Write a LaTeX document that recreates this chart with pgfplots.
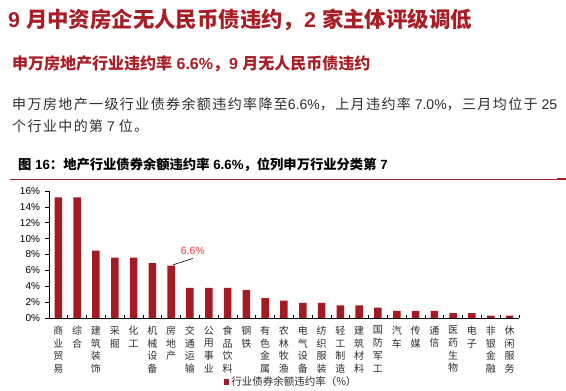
\documentclass[border=0pt]{standalone}
\usepackage{pgfplots}
\pgfplotsset{compat=1.18}
\usepackage{fontspec}
\setmainfont{Liberation Sans}
\newfontfamily\cjk{Noto Sans CJK SC}
\newfontfamily\cjksp[LetterSpace=10]{Noto Sans CJK SC}
\definecolor{titlered}{RGB}{168,30,38}
\definecolor{barred}{RGB}{165,27,35}
\definecolor{annred}{RGB}{235,55,60}
\definecolor{bodygray}{RGB}{45,45,45}
\begin{document}
\begin{tikzpicture}[x=1pt,y=1pt]
\path[use as bounding box] (0,0) rectangle (566,391);
% headings
\node[anchor=base west, inner sep=0, text=titlered, font=\fontsize{21.4}{25}\selectfont\bfseries] at (8,363)
  {9 {\cjk\bfseries 月中资房企无人民币债违约，}2 {\cjk\bfseries 家主体评级调低}};
\node[anchor=base west, inner sep=0, text=titlered, font=\fontsize{16}{19}\selectfont\bfseries] at (12,321)
  {{\cjk\bfseries 申万房地产行业违约率} 6.6\%{\cjk\bfseries ，}9 {\cjk\bfseries 月无人民币债违约}};
\node[anchor=base west, inner sep=0, text=bodygray, font=\fontsize{14}{17}\selectfont] at (12,281)
  {{\cjksp 申万房地产一级行业债券余额违约率降至}6.6\%{\cjksp ，上月违约率} 7.0\%{\cjksp ，三月均位于} 25};
\node[anchor=base west, inner sep=0, text=bodygray, font=\fontsize{14}{17}\selectfont] at (12,259.5)
  {{\cjksp 个行业中的第} 7 {\cjksp 位。}};
\node[anchor=base west, inner sep=0, text=black, font=\fontsize{13.3}{16}\selectfont\bfseries] at (18,221.5)
  {{\cjk\bfseries 图} 16{\cjk\bfseries ：地产行业债券余额违约率} 6.6\%{\cjk\bfseries ，位列申万行业分类第} 7};
\draw[titlered, line width=0.9pt] (10,212) -- (558,212);
\draw[titlered, line width=2pt] (557,212) -- (566,212);
\begin{axis}[
  at={(49pt,73pt)}, anchor=south west,
  scale only axis, width=470pt, height=127pt,
  xmin=-0.5, xmax=24.5, ymin=0, ymax=16,
  ybar, bar width=7.5pt,
  axis x line=bottom, axis y line=left,
  axis line style={-, line width=0.7pt, black},
  tick align=outside,
  major tick length=3.5pt, minor tick length=3pt,
  ytick={0,2,...,16},
  yticklabel={\pgfmathprintnumber{\tick}\%},
  /pgf/number format/assume math mode=true,
  yticklabel style={font=\fontsize{10}{12}\selectfont, xshift=-2pt},
  y tick style={black, line width=0.6pt},
  xtick={0,...,24},
  major x tick style={draw=none},
  minor xtick={-0.5,0.5,...,24.5},
  minor x tick style={black, line width=0.6pt, yshift=3pt},
  xticklabels={{商\\业\\贸\\易},{综\\合},{建\\筑\\装\\饰},{采\\掘},{化\\工},{机\\械\\设\\备},{房\\地\\产},{交\\通\\运\\输},{公\\用\\事\\业},{食\\品\\饮\\料},{钢\\铁},{有\\色\\金\\属},{农\\林\\牧\\渔},{电\\气\\设\\备},{纺\\织\\服\\装},{轻\\工\\制\\造},{建\\筑\\材\\料},{国\\防\\军\\工},{汽\\车},{传\\媒},{通\\信},{医\\药\\生\\物},{电\\子},{非\\银\\金\\融},{休\\闲\\服\\务}},
  xticklabel style={font=\cjk\fontsize{10}{12.7}\selectfont, align=center, anchor=north, text=bodygray, yshift=-1pt},
  legend image code/.code={\fill[barred] (0pt,-2.8pt) rectangle (5.6pt,2.8pt);},
  legend style={at={(0.515,-0.505)}, anchor=center, draw=none, fill=none,
    font=\cjk\fontsize{10.5}{12}\selectfont, text=bodygray,
    /tikz/every even column/.append style={column sep=2pt}},
  legend cell align=left,
  clip=false,
]
\addplot[fill=barred, draw=none, bar shift=0pt] coordinates {
(0,15.2) (1,15.2) (2,8.5) (3,7.6) (4,7.6) (5,6.9) (6,6.6) (7,3.8) (8,3.8) (9,3.8)
(10,3.5) (11,2.5) (12,2.2) (13,1.9) (14,1.9) (15,1.6) (16,1.6) (17,1.3) (18,0.9) (19,0.9)
(20,0.9) (21,0.6) (22,0.6) (23,0.3) (24,0.3)};
\addlegendentry{行业债券余额违约率（\%）}
\draw[black, line width=0.6pt] (axis cs:6.1,6.7) -- (axis cs:7.15,7.5);
\node[text=annred, font=\fontsize{10.5}{12}\selectfont] at (axis cs:7.15,8.45) {6.6\%};
\end{axis}
\end{tikzpicture}
\end{document}
